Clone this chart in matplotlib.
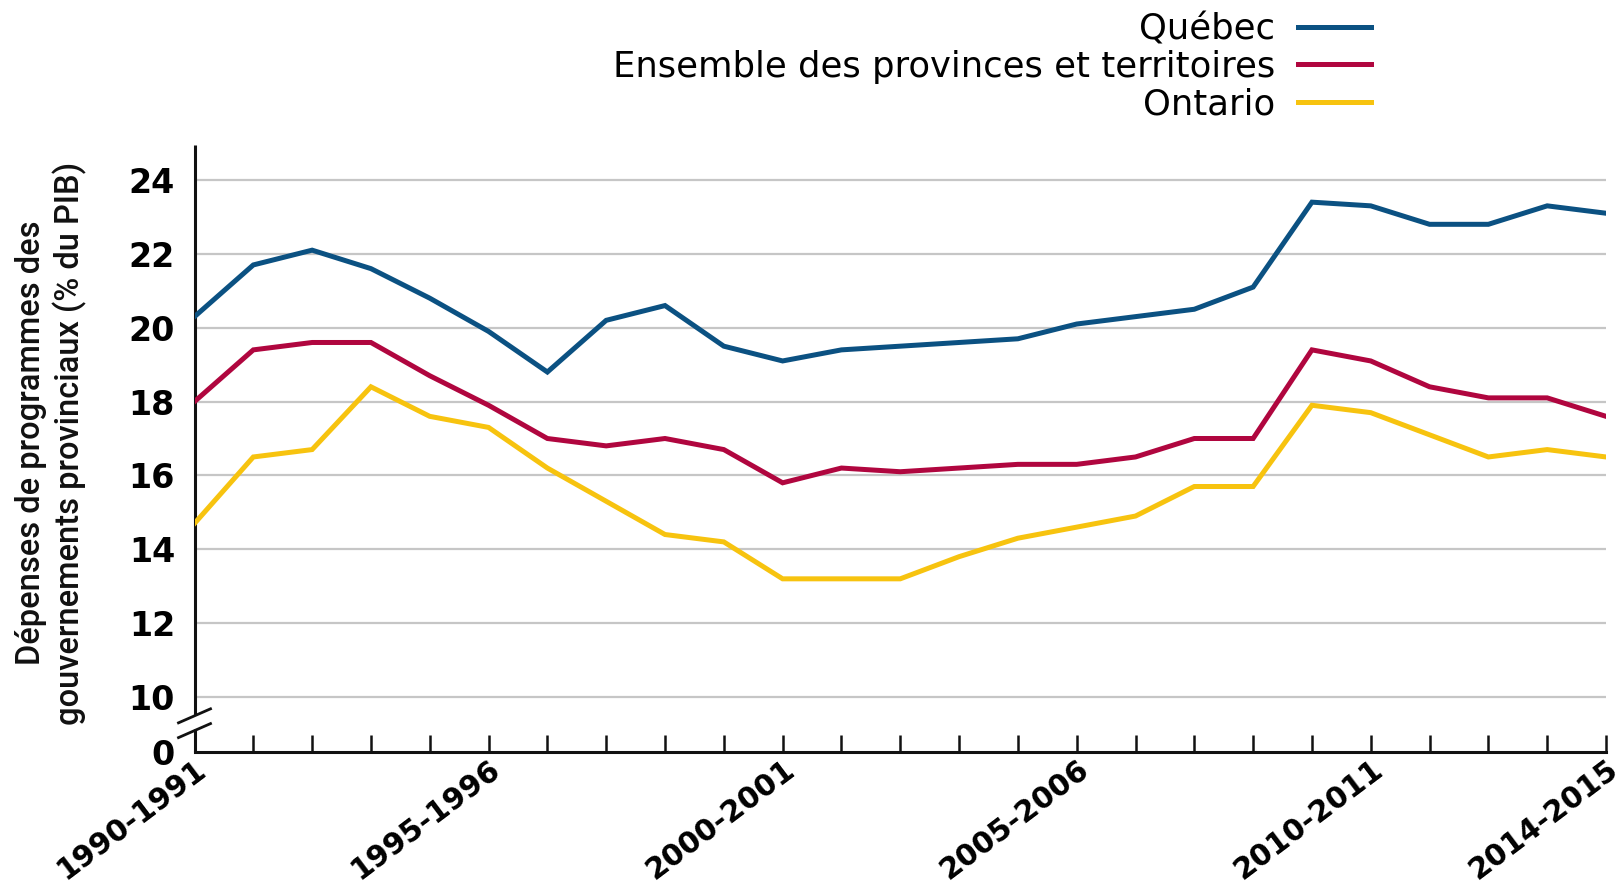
import matplotlib
matplotlib.use("Agg")
import matplotlib.pyplot as plt
import matplotlib.transforms as mtransforms
from matplotlib.lines import Line2D

# ---- data ----
years = ["1990-1991", "1991-1992", "1992-1993", "1993-1994", "1994-1995",
         "1995-1996", "1996-1997", "1997-1998", "1998-1999", "1999-2000",
         "2000-2001", "2001-2002", "2002-2003", "2003-2004", "2004-2005",
         "2005-2006", "2006-2007", "2007-2008", "2008-2009", "2009-2010",
         "2010-2011", "2011-2012", "2012-2013", "2013-2014", "2014-2015"]
shown_labels = ["1990-1991", "1995-1996", "2000-2001", "2005-2006", "2010-2011", "2014-2015"]

quebec = [20.3, 21.7, 22.1, 21.6, 20.8, 19.9, 18.8, 20.2, 20.6, 19.5,
          19.1, 19.4, 19.5, 19.6, 19.7, 20.1, 20.3, 20.5, 21.1, 23.4,
          23.3, 22.8, 22.8, 23.3, 23.1]
ensemble = [18.0, 19.4, 19.6, 19.6, 18.7, 17.9, 17.0, 16.8, 17.0, 16.7,
            15.8, 16.2, 16.1, 16.2, 16.3, 16.3, 16.5, 17.0, 17.0, 19.4,
            19.1, 18.4, 18.1, 18.1, 17.6]
ontario = [14.7, 16.5, 16.7, 18.4, 17.6, 17.3, 16.2, 15.3, 14.4, 14.2,
           13.2, 13.2, 13.2, 13.8, 14.3, 14.6, 14.9, 15.7, 15.7, 17.9,
           17.7, 17.1, 16.5, 16.7, 16.5]

series_names = ["Québec", "Ensemble des provinces et territoires", "Ontario"]
series_values = [quebec, ensemble, ontario]
series_colors = ["#0b5182", "#b0063f", "#f7c30f"]

ytick_values = [10, 12, 14, 16, 18, 20, 22, 24]
zero_label = "0"

# ---- figure ----
W, H = 1622, 888
fig = plt.figure(figsize=(W / 100, H / 100), dpi=100)
left, right, bottom, top = 194.5, 1606, 752, 145
ax = fig.add_axes([left / W, 1 - bottom / H, (right - left) / W, (bottom - top) / H])

px_per_unit = (697 - 180) / 14.0
ybot = 10 - (bottom - 697) / px_per_unit
ytop = 24 + (180 - top) / px_per_unit

x = list(range(len(years)))
for name, vals, col in zip(series_names, series_values, series_colors):
    ax.plot(x, vals, color=col, lw=3.6, solid_joinstyle="miter", label=name, zorder=3)

ax.set_xlim(0, len(years) - 1)
ax.set_ylim(ybot, ytop)

# grid
ax.set_yticks([ybot] + ytick_values)
ax.set_yticklabels([zero_label] + [str(v) for v in ytick_values])
for v in ytick_values:
    ax.axhline(v, color="#c6c6c6", lw=1.6, zorder=1)

# spines
for s in ["top", "right", "left"]:
    ax.spines[s].set_visible(False)
ax.spines["bottom"].set_linewidth(2.2)
ax.spines["bottom"].set_color("#111111")

# custom left spine with break
ytr = ax.get_yaxis_transform()
b1 = 9.50
b2 = 9.14
ax.plot([0, 0], [b1, ytop], transform=ytr, color="#111111", lw=2.2, clip_on=False, solid_capstyle="butt")
ax.plot([0, 0], [ybot, b2], transform=ytr, color="#111111", lw=2.2, clip_on=False, solid_capstyle="butt")
dx = 16 / (right - left)
dyu = 7 / px_per_unit
for yc in (b1 - 0.01, b2 - 0.05):
    ax.plot([-dx, dx], [yc - dyu, yc + dyu], transform=ytr, color="#111111", lw=2.0, clip_on=False)

# ticks
ax.tick_params(axis="y", length=0, pad=14, labelsize=24)
ax.tick_params(axis="x", direction="in", length=12.5, width=1.8, color="#111111",
               labelsize=21.5, pad=2)
ax.set_xticks(x)
ax.set_xticklabels([y if y in shown_labels else "" for y in years])
for lab in ax.get_yticklabels():
    lab.set_fontweight("bold")
    lab.set_fontfamily("DejaVu Sans")
offset = mtransforms.ScaledTranslation(0 / 100, 0 / 100, fig.dpi_scale_trans)
for lab in ax.get_xticklabels():
    lab.set_fontweight("bold")
    lab.set_fontfamily("DejaVu Sans")
    lab.set_rotation(37)
    lab.set_ha("right")
    lab.set_va("top")
    lab.set_rotation_mode("anchor")
    lab.set_transform(lab.get_transform() + offset)

# y label
fig.text(51 / W, 1 - 443 / H,
         "Dépenses de programmes des\ngouvernements provinciaux (% du PIB)",
         rotation=90, ha="center", va="center", multialignment="center",
         fontsize=23.5, family=["Roboto", "DejaVu Sans"], fontweight="medium",
         linespacing=1.22, color="#111111")

# legend
handles = [Line2D([], [], color=c, lw=3.6) for c in series_colors]
fig.legend(handles, series_names, loc="upper right",
           bbox_to_anchor=(1371 / W, 1 - 12 / H), frameon=False,
           markerfirst=False, handlelength=2.05,
           handletextpad=0.66, labelspacing=0.1, borderpad=0, borderaxespad=0,
           prop={"family": "DejaVu Sans", "size": 25.5})

fig.savefig("out.png", dpi=100, facecolor="white")
